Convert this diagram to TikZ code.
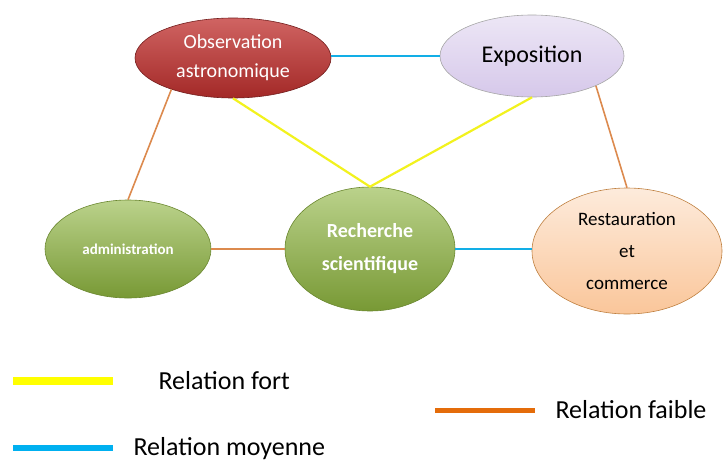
\documentclass[tikz,border=0pt]{standalone}
\usepackage{fontspec}
\setmainfont{Carlito}
\usetikzlibrary{shapes.geometric}

\definecolor{fortcol}{HTML}{F2F21E}
\definecolor{moyencol}{HTML}{12AEE6}
\definecolor{faiblecol}{HTML}{DC8A4E}
\definecolor{legfort}{HTML}{FFFF00}
\definecolor{legmoyen}{HTML}{00B0F0}
\definecolor{legfaible}{HTML}{E46C0A}
\definecolor{vert}{HTML}{8DB43E}
\definecolor{rouge}{HTML}{C0302E}
\definecolor{lilas}{HTML}{D6C8EA}
\definecolor{peche}{HTML}{FAC69A}

\tikzset{
  bulle/.style={ellipse,inner sep=0pt,line width=0.6pt},
  verte/.style={bulle,top color=vert!60!white,bottom color=vert!85!black,
    draw=vert!75!black,text=white},
  fort/.style={line width=2.2pt,color=fortcol},
  moyen/.style={line width=2.2pt,color=moyencol},
  faible/.style={line width=1.6pt,color=faiblecol},
  legtxt/.style={anchor=west,font=\fontsize{26}{30}\selectfont}
}

\begin{document}
\begin{tikzpicture}[x=1pt,y=-1pt]
  \useasboundingbox (0,0) rectangle (725,463);
  % the five activities
  \node[bulle,minimum width=196pt,minimum height=80pt,
        top color=rouge!75!white,bottom color=rouge!85!black,
        draw=rouge!60!black,text=white,align=center,
        font=\fontsize{20}{29}\selectfont]
    (obs) at (233,58) {Observation\\astronomique};
  \node[bulle,minimum width=184pt,minimum height=82pt,
        top color=lilas!45!white,bottom color=lilas,draw=gray!70,
        font=\fontsize{24}{28}\selectfont]
    (expo) at (532,56) {Exposition};
  \node[verte,minimum width=166pt,minimum height=98pt,
        font=\bfseries\fontsize{15}{18}\selectfont]
    (adm) at (128,249) {administration};
  \node[verte,minimum width=170pt,minimum height=124pt,align=center,
        font=\bfseries\fontsize{20}{33}\selectfont]
    (rech) at (370,249) {Recherche\\scientifique};
  \node[bulle,minimum width=190pt,minimum height=126pt,
        top color=peche!35!white,bottom color=peche,draw=orange!50!gray,
        align=center,font=\fontsize{19}{32}\selectfont]
    (rest) at (627,251) {Restauration\\et\\commerce};
  % relations
  \draw[moyen] (expo.west) -- (expo.west -| obs.east);
  \draw[fort] (obs.south) -- (rech.north) -- (expo.south);
  \draw[faible] (obs.207) -- (adm.north);
  \draw[faible] (expo.335) -- (rest.north);
  \draw[faible] (adm.east) -- (rech.west);
  \draw[moyen] (rech.east) -- (rech.east -| rest.west);
  % legend
  \coordinate (lf1) at (13,381);  \coordinate (lf2) at (113,381);
  \coordinate (lb1) at (435,410); \coordinate (lb2) at (535,410);
  \coordinate (lm1) at (13,448);  \coordinate (lm2) at (113,448);
  \draw[line width=8pt,legfort] (lf1) -- (lf2);
  \draw[line width=5pt,legfaible] (lb1) -- (lb2);
  \draw[line width=6pt,legmoyen] (lm1) -- (lm2);
  \node[legtxt] (tfort) at (155,381) {Relation fort};
  \node[legtxt] (tfaible) at (552,410) {Relation faible};
  \node[legtxt] (tmoyen) at (130,449) {Relation moyenne};
\end{tikzpicture}
\end{document}
